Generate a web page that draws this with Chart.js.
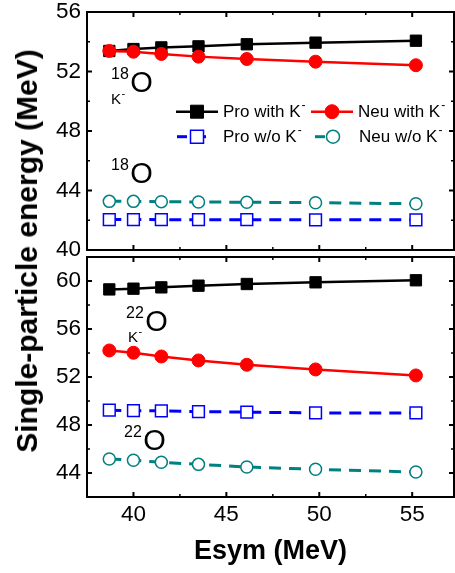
<!DOCTYPE html>
<html><head><meta charset="utf-8">
<script src="https://cdn.jsdelivr.net/npm/chart.js@4.4.1/dist/chart.umd.min.js"></script>
<style>
html,body{margin:0;padding:0;background:#fff;}
body{width:455px;height:573px;position:relative;overflow:hidden;font-family:"Liberation Sans",Arial,sans-serif;}
canvas{position:absolute;left:0;}
#c1{top:0}
#c2{top:250px}
#ytitle{position:absolute;left:27px;top:251px;transform:translate(-50%,-50%) rotate(-90deg);font-weight:bold;font-size:30px;white-space:nowrap;line-height:1;color:#000;}
</style></head><body>
<canvas id="c1" width="455" height="262"></canvas>
<canvas id="c2" width="455" height="323"></canvas>
<div id="ytitle">Single-particle energy (MeV)</div>
<script>
// ---- data ----
const esym = [38.7, 40.0, 41.5, 43.5, 46.1, 49.8, 55.2];
// 18O panel (top)
const proWithTop = [53.38, 53.51, 53.62, 53.69, 53.83, 53.94, 54.07];
const neuWithTop = [53.38, 53.33, 53.18, 53.00, 52.84, 52.66, 52.42];
const proWoTop   = [42.05, 42.05, 42.04, 42.04, 42.04, 42.03, 42.03];
const neuWoTop   = [43.27, 43.27, 43.25, 43.23, 43.21, 43.18, 43.11];
// 22O panel (bottom)
const proWithBot = [59.30, 59.36, 59.47, 59.61, 59.75, 59.89, 60.06];
const neuWithBot = [54.21, 54.02, 53.71, 53.38, 53.02, 52.63, 52.13];
const proWoBot   = [49.23, 49.20, 49.18, 49.12, 49.07, 49.01, 49.01];
const neuWoBot   = [45.17, 45.06, 44.89, 44.72, 44.50, 44.31, 44.08];
// ticks
const xTicks = [40, 45, 50, 55];
const xMinor = [42.5, 47.5, 52.5];
const yTicksTop = [40, 44, 48, 52, 56];
const yMinorTop = [42, 46, 50, 54];
const yTicksBot = [44, 48, 52, 56, 60];
const yMinorBot = [42, 46, 50, 54, 58];
const seriesLabels = ['Pro with K', 'Neu with K', 'Pro w/o K', 'Neu w/o K'];

const FONT = '"Liberation Sans", Arial, sans-serif';
Chart.defaults.font.family = FONT;
Chart.defaults.color = '#000';

function pts(ys){ return esym.map((x,i)=>({x:x, y:ys[i]})); }
function makeDatasets(pw, nw, po, no){
  return [
    {label:seriesLabels[1], data:pts(nw), borderColor:'#ff0000', backgroundColor:'#ff0000', pointStyle:'circle', pointRadius:6.5, pointBorderWidth:1, borderWidth:2.5, order:0},
    {label:seriesLabels[0], data:pts(pw), borderColor:'#000000', backgroundColor:'#000000', pointStyle:'rect', pointRadius:8, pointBorderWidth:1, borderWidth:2.5, order:1},
    {label:seriesLabels[2], data:pts(po), borderColor:'#0000ff', backgroundColor:'#ffffff', pointStyle:'rect', pointRadius:8.3, pointBorderWidth:1.5, borderWidth:3, borderDash:[12,8], order:2},
    {label:seriesLabels[3], data:pts(no), borderColor:'#008080', backgroundColor:'#ffffff', pointStyle:'circle', pointRadius:6, pointBorderWidth:1.5, borderWidth:3, borderDash:[12,8], order:3}
  ];
}

function line(ctx,x1,y1,x2,y2,w){ctx.lineWidth=w;ctx.beginPath();ctx.moveTo(x1,y1);ctx.lineTo(x2,y2);ctx.stroke();}
function zeroPad(s){ s.paddingTop=0; s.paddingBottom=0; s.paddingLeft=0; s.paddingRight=0; }

const framePlugin = {
  id:'frame',
  afterDatasetsDraw(chart, args, o){
    const ctx=chart.ctx, a=chart.chartArea, xs=chart.scales.x, ys=chart.scales.y;
    ctx.save();
    ctx.strokeStyle='#000';
    ctx.lineWidth=2;
    ctx.strokeRect(a.left, a.top, a.right-a.left, a.bottom-a.top);
    o.xMajor.forEach(v=>{const p=xs.getPixelForValue(v); line(ctx,p,a.bottom,p,a.bottom-5,2); line(ctx,p,a.top,p,a.top+5,2);});
    o.xMinor.forEach(v=>{const p=xs.getPixelForValue(v); line(ctx,p,a.bottom,p,a.bottom-3,1.5); line(ctx,p,a.top,p,a.top+3,1.5);});
    o.yMajor.forEach(v=>{const p=ys.getPixelForValue(v); line(ctx,a.left,p,a.left+5,p,2); line(ctx,a.right,p,a.right-5,p,2);});
    o.yMinor.forEach(v=>{const p=ys.getPixelForValue(v); line(ctx,a.left,p,a.left+3,p,1.5); line(ctx,a.right,p,a.right-3,p,1.5);});
    ctx.restore();
  }
};

function drawKminus(ctx, text, x, y, size){
  ctx.font = size+'px '+FONT;
  ctx.textBaseline='alphabetic';
  ctx.textAlign='left';
  ctx.fillText(text, x, y);
  const w = ctx.measureText(text).width;
  ctx.font = Math.round(size*0.7)+'px '+FONT;
  ctx.fillText('-', x+w+0.5, y-size*0.45);
}
function drawIso(ctx, sup, x, y){
  ctx.font='16px '+FONT;
  ctx.textBaseline='alphabetic';
  ctx.textAlign='left';
  ctx.fillText(sup, x, y-13.5);
  const w=ctx.measureText(sup).width;
  ctx.font='29px '+FONT;
  ctx.fillText('O', x+w+1.5, y);
}

const annotPlugin = {
  id:'annot',
  afterDraw(chart, args, o){
    const ctx=chart.ctx;
    ctx.save();
    ctx.fillStyle='#000';
    (o.items||[]).forEach(it=>{
      if(it.kind==='iso') drawIso(ctx, it.sup, it.x, it.y);
      else drawKminus(ctx, 'K', it.x, it.y, 15);
    });
    if(o.legend){
      const ds = chart.data.datasets;
      const byLabel = l => ds.find(d=>d.label===l);
      const L = [
        {d:byLabel(seriesLabels[0]), x1:176, x2:218, cx:197, tx:223, y:111.7, solid:true},
        {d:byLabel(seriesLabels[1]), x1:311, x2:353, cx:332, tx:358, y:111.7, solid:true},
        {d:byLabel(seriesLabels[2]), x1:177, x2:207, cx:197, tx:223, y:136.7, solid:false},
        {d:byLabel(seriesLabels[3]), x1:315, x2:340, cx:333, tx:359, y:136.7, solid:false}
      ];
      L.forEach(e=>{
        const d=e.d;
        ctx.strokeStyle=d.borderColor;
        ctx.fillStyle=d.backgroundColor;
        if(e.solid){
          line(ctx,e.x1,e.y,e.x2,e.y,d.borderWidth);
        } else {
          line(ctx,e.x1,e.y,e.x1+10,e.y,d.borderWidth);
          if(d.pointStyle==='rect') line(ctx,e.cx+6,e.y,e.cx+9,e.y,d.borderWidth);
        }
        ctx.lineWidth=d.pointBorderWidth;
        ctx.beginPath();
        if(d.pointStyle==='rect'){
          const s = 13;
          ctx.rect(e.cx-s/2, e.y-s/2, s, s);
        } else {
          const r = e.solid?7:6.5;
          ctx.arc(e.cx, e.y, r, 0, Math.PI*2);
        }
        ctx.fill(); ctx.stroke();
        ctx.fillStyle='#000';
        ctx.font='17px '+FONT;
        ctx.textBaseline='middle';
        ctx.textAlign='left';
        ctx.fillText(d.label, e.tx, e.y+1);
        const w=ctx.measureText(d.label).width;
        ctx.font='12px '+FONT;
        ctx.fillText('-', e.tx+w+1, e.y-6);
      });
    }
    ctx.restore();
  }
};

const tickFont = {size:22.5, family:FONT};

new Chart(document.getElementById('c1'), {
  type:'line',
  data:{datasets:makeDatasets(proWithTop, neuWithTop, proWoTop, neuWoTop)},
  plugins:[framePlugin, annotPlugin],
  options:{
    responsive:false, animation:false, devicePixelRatio:1,
    layout:{autoPadding:false, padding:{top:12, right:1, bottom:12, left:0}},
    plugins:{
      legend:{display:false}, tooltip:{enabled:false},
      frame:{xMajor:xTicks, xMinor:xMinor, yMajor:yTicksTop, yMinor:yMinorTop},
      annot:{legend:true, items:[
        {kind:'iso', sup:'18', x:111, y:92},
        {kind:'k', x:111, y:104},
        {kind:'iso', sup:'18', x:111, y:183}
      ]}
    },
    scales:{
      x:{type:'linear', display:false, min:37.5, max:57.25, afterFit:zeroPad},
      y:{type:'linear', min:40, max:56,
         afterBuildTicks:s=>{s.ticks=yTicksTop.map(v=>({value:v}));},
         afterFit:s=>{s.width=87; zeroPad(s);},
         ticks:{font:tickFont, color:'#000', padding:6},
         grid:{display:false, drawTicks:false}, border:{display:false}}
    }
  }
});

new Chart(document.getElementById('c2'), {
  type:'line',
  data:{datasets:makeDatasets(proWithBot, neuWithBot, proWoBot, neuWoBot)},
  plugins:[framePlugin, annotPlugin],
  options:{
    responsive:false, animation:false, devicePixelRatio:1,
    layout:{autoPadding:false, padding:{top:7, right:1, bottom:0, left:0}},
    plugins:{
      legend:{display:false}, tooltip:{enabled:false},
      frame:{xMajor:xTicks, xMinor:xMinor, yMajor:yTicksBot, yMinor:yMinorBot},
      annot:{legend:false, items:[
        {kind:'iso', sup:'22', x:126, y:81},
        {kind:'k', x:128, y:92},
        {kind:'iso', sup:'22', x:124, y:200}
      ]}
    },
    scales:{
      x:{type:'linear', min:37.5, max:57.25,
         afterBuildTicks:s=>{s.ticks=xTicks.map(v=>({value:v}));},
         afterFit:s=>{s.height=76; zeroPad(s);},
         ticks:{font:tickFont, color:'#000', padding:4, maxRotation:0},
         grid:{display:false, drawTicks:false}, border:{display:false},
         title:{display:true, text:'Esym (MeV)', color:'#000', font:{size:27, weight:'bold', family:FONT}, padding:{top:0, bottom:5}}},
      y:{type:'linear', min:42, max:62,
         afterBuildTicks:s=>{s.ticks=yTicksBot.map(v=>({value:v}));},
         afterFit:s=>{s.width=87; zeroPad(s);},
         ticks:{font:tickFont, color:'#000', padding:6},
         grid:{display:false, drawTicks:false}, border:{display:false}}
    }
  }
});
</script>
</body></html>
